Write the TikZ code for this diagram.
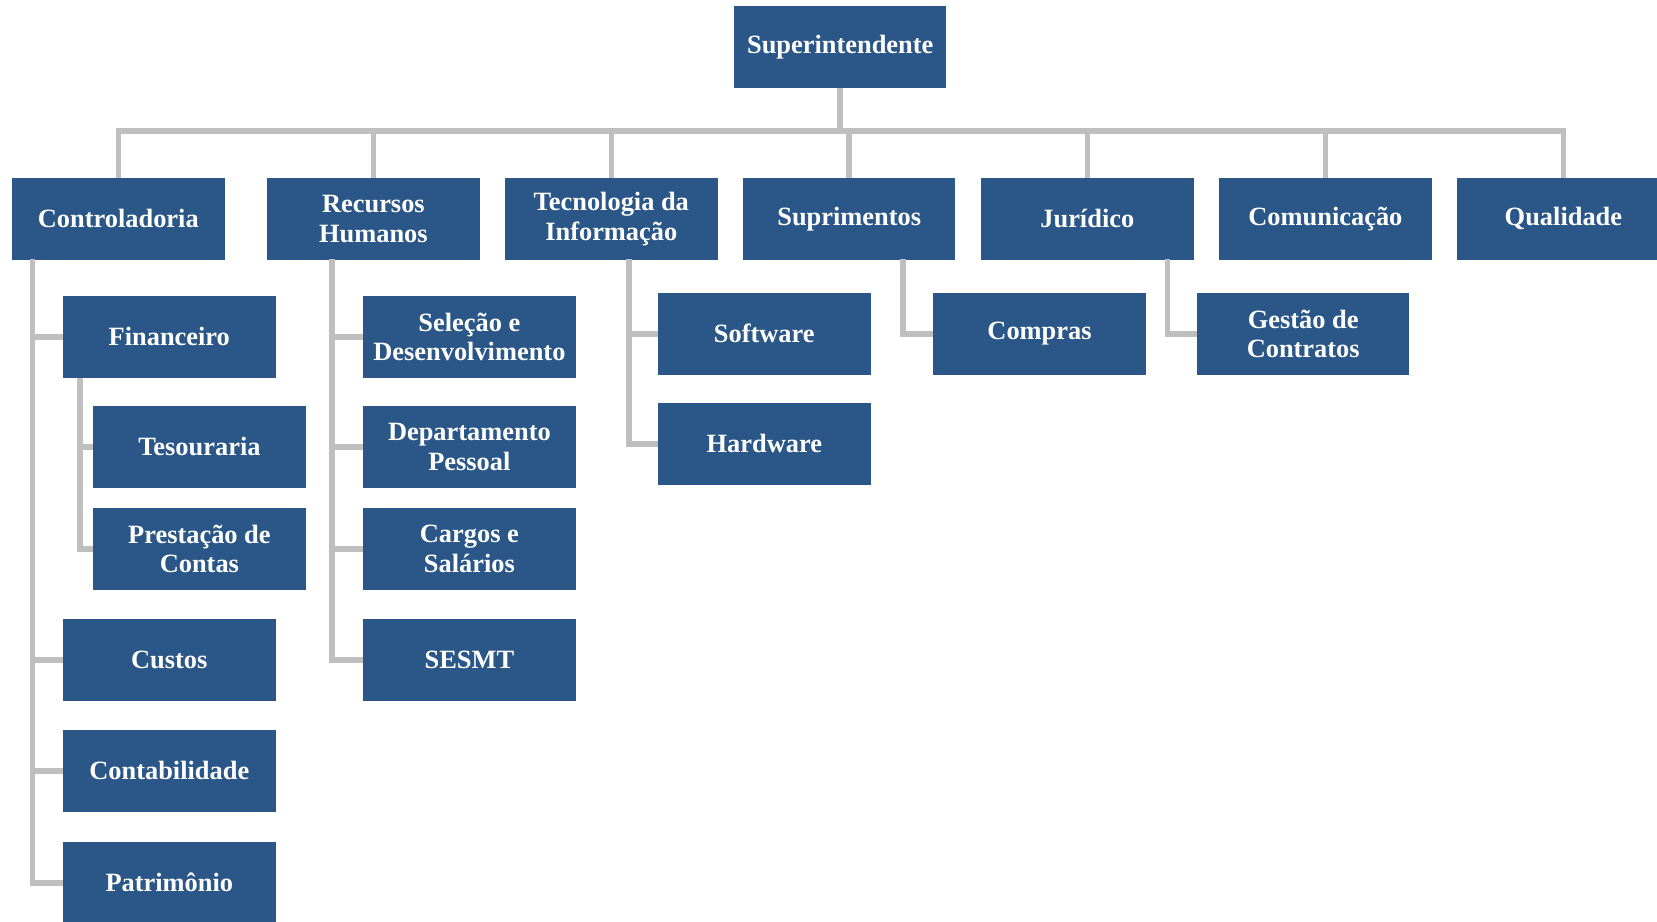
\documentclass[tikz,border=0pt]{standalone}
\usepackage{fontspec}
\setmainfont{Liberation Serif}
\definecolor{boxblue}{HTML}{2A5787}
\definecolor{linegray}{HTML}{BFBFBF}
\begin{document}
\begin{tikzpicture}[x=0.5pt,y=-0.5pt,
  box/.style={fill=boxblue, text=white, minimum width=106.25pt, minimum height=40.85pt,
    inner sep=0pt, align=center, font=\bfseries\fontsize{13.2}{14.8}\selectfont},
  conn/.style={draw=linegray, line width=2.75pt}]
\useasboundingbox (0,0) rectangle (1657,921);
\clip (0,0) rectangle (1657,921);
% top
\node[box] (sup) at (840.2,46.8) {Superintendente};
% level 1
\node[box] (contr) at (118.3,218.8) {Controladoria};
\node[box] (rh) at (373.4,218.8) {Recursos\\Humanos};
\node[box] (ti) at (611.3,218.8) {Tecnologia da\\Informação};
\node[box] (supr) at (849.2,218.8) {Suprimentos};
\node[box] (jur) at (1087.3,218.8) {Jurídico};
\node[box] (com) at (1325.4,218.8) {Comunicação};
\node[box] (qual) at (1563.4,218.8) {Qualidade};
% Controladoria children
\node[box] (fin) at (169.3,336.8) {Financeiro};
\node[box] (tes) at (199.4,446.8) {Tesouraria};
\node[box] (prest) at (199.4,548.8) {Prestação de\\Contas};
\node[box] (cust) at (169.3,659.8) {Custos};
\node[box] (cont) at (169.3,770.8) {Contabilidade};
\node[box] (patr) at (169.3,882.8) {Patrimônio};
% RH children
\node[box] (sel) at (469.4,336.8) {Seleção e\\Desenvolvimento};
\node[box] (dp) at (469.4,446.8) {Departamento\\Pessoal};
\node[box] (carg) at (469.4,548.8) {Cargos e\\Salários};
\node[box] (sesmt) at (469.4,659.8) {SESMT};
% TI children
\node[box] (soft) at (764.3,333.8) {Software};
\node[box] (hard) at (764.3,443.8) {Hardware};
% Suprimentos / Juridico children
\node[box] (comp) at (1039.5,334) {Compras};
\node[box] (gest) at (1303.2,334) {Gestão de\\Contratos};
% coordinates
\coordinate (bus) at (840.2,131);
\coordinate (cv) at (32.7,259.4);
\coordinate (fv) at (79.8,377.7);
\coordinate (rv) at (332,259.4);
\coordinate (tv) at (629,259.4);
\coordinate (sv) at (902.8,259.4);
\coordinate (jv) at (1167.5,259.4);
% connectors
\draw[conn] (sup.south) -- (bus);
\foreach \n in {contr,rh,ti,supr,jur,com,qual}{\draw[conn] (bus) -| (\n.north);}
\foreach \n in {fin,cust,cont,patr}{\draw[conn] (cv) |- (\n.west);}
\foreach \n in {tes,prest}{\draw[conn] (fv) |- (\n.west);}
\foreach \n in {sel,dp,carg,sesmt}{\draw[conn] (rv) |- (\n.west);}
\foreach \n in {soft,hard}{\draw[conn] (tv) |- (\n.west);}
\draw[conn] (sv) |- (comp.west);
\draw[conn] (jv) |- (gest.west);
\end{tikzpicture}
\end{document}
